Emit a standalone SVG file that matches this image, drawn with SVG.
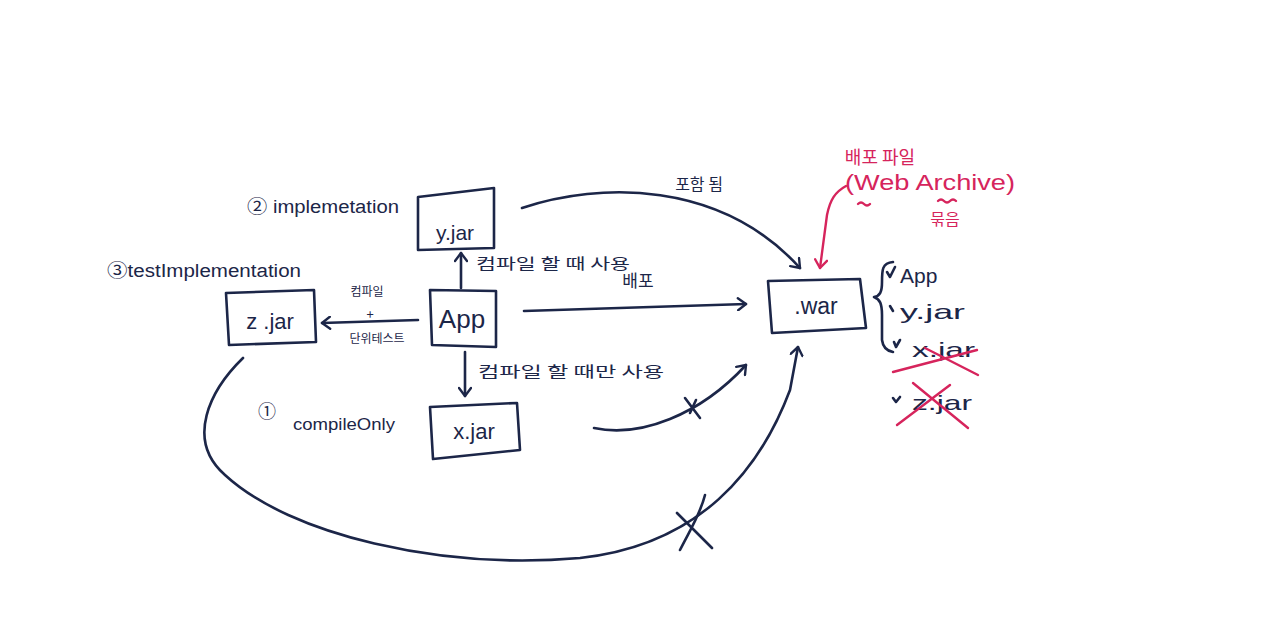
<svg xmlns="http://www.w3.org/2000/svg" width="1280" height="635" viewBox="0 0 1280 635">
<style>
.ink{fill:none;stroke:#1c2648;stroke-width:2.6;stroke-linecap:round;stroke-linejoin:round}
.red{fill:none;stroke:#d6245c;stroke-width:2.4;stroke-linecap:round;stroke-linejoin:round}
.t{fill:#1c2648;font-family:"Liberation Sans","Noto Sans CJK KR",sans-serif}
.k{fill:#1c2648;font-family:"Noto Sans CJK KR",sans-serif}
.rt{fill:#d6245c;font-family:"Liberation Sans","Noto Sans CJK KR",sans-serif}
.rk{fill:#d6245c;font-family:"Noto Sans CJK KR",sans-serif}
</style>
<defs>
<marker id="ah" markerWidth="14" markerHeight="14" refX="10" refY="7" orient="auto" markerUnits="userSpaceOnUse">
<polyline points="2,1 10,7 2,13" fill="none" stroke="#1c2648" stroke-width="2.4" stroke-linecap="round" stroke-linejoin="round"/>
</marker>
<marker id="ahr" markerWidth="14" markerHeight="14" refX="10" refY="7" orient="auto" markerUnits="userSpaceOnUse">
<polyline points="2,1 10,7 2,13" fill="none" stroke="#d6245c" stroke-width="2.4" stroke-linecap="round" stroke-linejoin="round"/>
</marker>
</defs>
<rect width="1280" height="635" fill="#ffffff"/>

<g id="node-yjar">
<path class="ink" d="M418,197 L494,188 L494,248 L418,250 Z"/>
<text class="t" x="455" y="240" font-size="21" text-anchor="middle">y.jar</text>
</g>
<g id="node-app">
<path class="ink" d="M430,290 L496,291 L496,347 L432,345 Z"/>
<text class="t" x="462" y="328" font-size="26" text-anchor="middle">App</text>
</g>
<g id="node-zjar">
<path class="ink" d="M226,293 L314,290 L316,342 L229,345 Z"/>
<text class="t" x="270" y="329" font-size="22" text-anchor="middle">z .jar</text>
</g>
<g id="node-xjar">
<path class="ink" d="M430,407 L517,403 L520,450 L433,459 Z"/>
<text class="t" x="474" y="439" font-size="22" text-anchor="middle">x.jar</text>
</g>
<g id="node-war">
<path class="ink" d="M768,281 L860,279 L866,328 L772,333 Z"/>
<text class="t" x="816" y="314" font-size="23" text-anchor="middle">.war</text>
</g>

<g id="connectors">
<path class="ink" d="M418,320 L322,323" marker-end="url(#ah)"/>
<path class="ink" d="M461,288 L461,253" marker-end="url(#ah)"/>
<path class="ink" d="M465,352 L465,396" marker-end="url(#ah)"/>
<path class="ink" d="M524,311 L746,304" marker-end="url(#ah)"/>
<path class="ink" d="M522,208 C600,182 720,180 800,268" marker-end="url(#ah)"/>
<path class="ink" d="M594,428 C640,438 700,415 746,365" marker-end="url(#ah)"/>
<path class="ink" d="M243,358 C210,390 185,440 225,475 C290,535 440,570 580,558 C700,545 760,470 790,390 L798,347" marker-end="url(#ah)"/>
<path class="red" d="M846,186 C835,192 830,200 827,215 L820,268" marker-end="url(#ahr)"/>
<path class="ink" d="M685,398 L700,418 M696,400 L690,413"/>
<path class="ink" d="M677,513 L712,548 M705,495 C700,515 690,530 680,550"/>
</g>

<g id="labels">
<text class="t" x="247" y="213" font-size="18" textLength="152" lengthAdjust="spacingAndGlyphs">② implemetation</text>
<text class="t" x="107" y="277" font-size="18" textLength="194" lengthAdjust="spacingAndGlyphs">③testImplementation</text>
<text class="k" x="367" y="296" font-size="12" text-anchor="middle">컴파일</text>
<text class="k" x="370" y="319" font-size="13" text-anchor="middle">+</text>
<text class="k" x="377" y="343" font-size="12" text-anchor="middle">단위테스트</text>
<text class="k" x="476" y="269" font-size="15" textLength="154" lengthAdjust="spacingAndGlyphs">컴파일 할 때 사용</text>
<text class="k" x="638" y="287" font-size="17" text-anchor="middle">배포</text>
<text class="k" x="478" y="377" font-size="15" textLength="186" lengthAdjust="spacingAndGlyphs">컴파일 할 때만 사용</text>
<text class="t" x="258" y="418" font-size="18">①</text>
<text class="t" x="293" y="430" font-size="17" textLength="102" lengthAdjust="spacingAndGlyphs">compileOnly</text>
<text class="k" x="699" y="190" font-size="16" text-anchor="middle">포함 됨</text>
<text class="rk" x="880" y="164" font-size="18" text-anchor="middle">배포 파일</text>
<text class="rt" x="845" y="190" font-size="22" textLength="170" lengthAdjust="spacingAndGlyphs">(Web Archive)</text>
<path class="red" d="M858,204 q3,-3 6,0 q3,3 6,0 M938,201 q3,-3 6,0 q3,3 6,0 q3,-3 6,0"/>
<text class="rk" x="945" y="225" font-size="16" text-anchor="middle">묶음</text>
</g>

<g id="list">
<path class="ink" d="M893,262 C882,263 882,270 882,282 C882,292 880,296 874,297 C880,299 882,304 882,315 L882,340 C883,348 887,351 893,352"/>
<path class="ink" d="M887,272 L890,277 L895,267 M890,306 L893,311 M894,342 L896,347 L900,340 M893,398 L896,402 L900,397" stroke-width="2"/>
<text class="t" x="900" y="283" font-size="21">App</text>
<text class="t" x="900" y="319" font-size="21" textLength="65" lengthAdjust="spacingAndGlyphs">y.jar</text>
<text class="t" x="912" y="357" font-size="21" textLength="63" lengthAdjust="spacingAndGlyphs">x.jar</text>
<text class="t" x="912" y="410" font-size="21" textLength="60" lengthAdjust="spacingAndGlyphs">z.jar</text>
<path class="red" d="M893,372 L977,350 M925,348 L978,375"/>
<path class="red" d="M897,425 L950,385 M913,383 L968,428"/>
</g>
</svg>
